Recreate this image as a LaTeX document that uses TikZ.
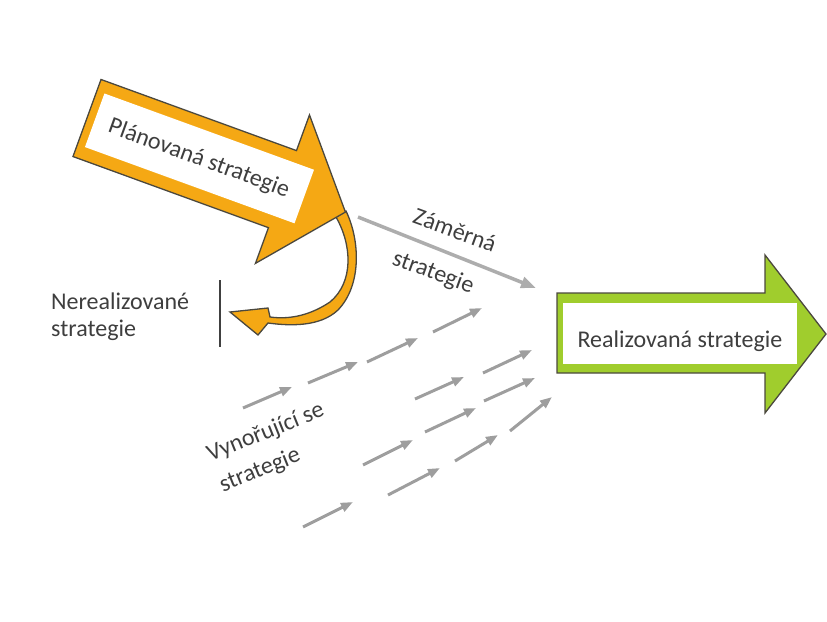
\documentclass[tikz,border=0pt]{standalone}
\usepackage{fontspec}
\setmainfont{Carlito}
\usepackage{xcolor}
\usepackage{tikz}
\usetikzlibrary{arrows.meta, positioning}

\definecolor{planOrange}{RGB}{245,168,20}
\definecolor{realGreen}{RGB}{160,205,45}
\definecolor{arrowEdge}{RGB}{75,72,62}
\definecolor{textGray}{RGB}{62,62,62}

\tikzset{
    bigarrow/.style={draw=arrowEdge, line width=1.3pt, line join=miter},
    labeltext/.style={text=textGray, font=\fontsize{24}{27}\selectfont, inner sep=0pt},
    emergent/.style={line width=3pt, draw=black!38, -{Triangle[length=12pt,width=9pt]}}
}

\begin{document}
\begin{tikzpicture}[x=1pt, y=-1pt]
        \useasboundingbox (0,0) rectangle (827,621);

        % Draw curved arrow from 'Plánovaná strategie' to 'Nerealizované strategie'
        \filldraw[bigarrow, fill=planOrange] (346,211) .. controls (360,240) and (362,285) .. (338,310)
            .. controls (320,327) and (290,326) .. (268,323) -- (258,335) -- (230,312) -- (268,308) -- (270,317)
            .. controls (292,320) and (312,314) .. (330,302) .. controls (354,282) and (352,245) .. (336,217) -- cycle;

        % Draw arrow 'Plánovaná strategie'
        \begin{scope}[shift={(87,118)}, rotate=-20]
            \filldraw[bigarrow, fill=planOrange] (0,-41) -- (208,-41) -- (208,-79) -- (275,0) -- (208,79) -- (208,41) -- (0,41) -- cycle;
            \fill[white] (8,-29) rectangle (231,28);
            \node[labeltext, rotate=-20] (plan) at (119,0) {Plánovaná strategie};
        \end{scope}

        % Draw arrow 'Realizovaná strategie'
        \filldraw[bigarrow, fill=realGreen] (557,293) -- (765,293) -- (765,255) -- (826,334) -- (765,413) -- (765,373) -- (557,373) -- cycle;
        \fill[white] (563,303) rectangle (797,364);
        \node[labeltext] (real) at (680,341) {Realizovaná strategie};

        % Draw arrow 'Záměrná strategie'
        \coordinate (zamerStart) at (358,217);
        \coordinate (zamerEnd) at (536,288);
        \draw[line width=3.5pt, draw=black!32, -{Triangle[length=15pt,width=11pt]}] (zamerStart) -- (zamerEnd);
        \node[labeltext, rotate=-20] (zamer) at (455,230) {Záměrná};
        \node[labeltext, rotate=-20] (zamerS) at (433,273) {strategie};

        % Draw text 'Nerealizované strategie' with bar
        \node[labeltext, anchor=west, align=left] (nereal) at (51,317) {Nerealizované\\strategie};
        \draw[line width=2.5pt, draw=black!75] (220,280) -- (220,347);

        % Draw small arrows 'Vynořující se strategie'
        \draw[emergent] (243,408) -- (292,387);
        \draw[emergent] (308,383) -- (358,362);
        \draw[emergent] (367,362) -- (418,338);
        \draw[emergent] (433,332) -- (482,308);
        \draw[emergent] (483,373) -- (532,350);
        \draw[emergent] (415,399) -- (464,377);
        \draw[emergent] (484,401) -- (535,378);
        \draw[emergent] (425,432) -- (476,408);
        \draw[emergent] (510,431) -- (552,397);
        \draw[emergent] (363,465) -- (413,440);
        \draw[emergent] (455,461) -- (498,435);
        \draw[emergent] (388,495) -- (440,468);
        \draw[emergent] (303,527) -- (353,502);
        \node[labeltext, font=\fontsize{24}{33}\selectfont, align=left, rotate=22] (vynor) at (272,448) {Vynořující se\\strategie};
    \end{tikzpicture}
\end{document}
